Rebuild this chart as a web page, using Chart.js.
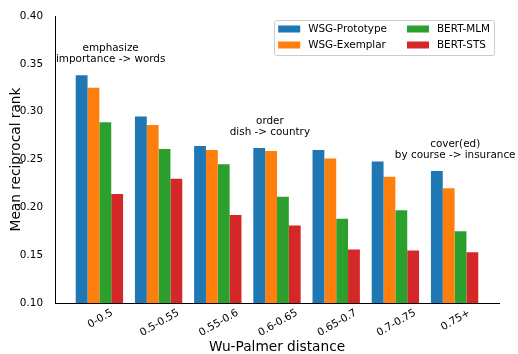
<!DOCTYPE html>
<html lang="en">
<head>
<meta charset="UTF-8">
<title>Mean reciprocal rank by Wu-Palmer distance</title>
<script src="https://cdn.jsdelivr.net/npm/chart.js"></script>
<style>
  html, body { margin: 0; padding: 0; background: #fff; }
  #wrap { width: 518px; height: 354px; }
</style>
</head>
<body>
<div id="wrap"><canvas id="mrrChart"></canvas></div>
<script>
  // Wu-Palmer distance buckets
  const categories = ["0-0.5", "0.5-0.55", "0.55-0.6", "0.6-0.65", "0.65-0.7", "0.7-0.75", "0.75+"];

  // mean reciprocal rank per model
  const wsgPrototype = [0.338, 0.295, 0.264, 0.262, 0.260, 0.248, 0.238];
  const wsgExemplar  = [0.325, 0.286, 0.260, 0.259, 0.251, 0.232, 0.220];
  const bertMLM      = [0.289, 0.261, 0.245, 0.211, 0.188, 0.197, 0.175];
  const bertSTS      = [0.214, 0.230, 0.192, 0.181, 0.156, 0.155, 0.153];

  const yTicks = [0.10, 0.15, 0.20, 0.25, 0.30, 0.35, 0.40];

  // example pairs written over the bars (x = bucket index, y = MRR)
  const notes = [
    { lines: ["emphasize", "importance -> words"], x: 0.19, y: 0.360 },
    { lines: ["order", "dish -> country"], x: 2.88, y: 0.2845 },
    { lines: ["cover(ed)", "by course -> insurance"], x: 6.01, y: 0.2604 }
  ];

  const FONT = '"DejaVu Sans", sans-serif';
  Chart.defaults.font.family = FONT;
  Chart.defaults.color = '#000';

  const toPoints = vals => vals.map((v, i) => ({ x: i, y: v }));

  // rotated category labels, centred under each group like matplotlib does
  const xLabels = {
    id: 'xLabels',
    afterDraw(chart) {
      const ctx = chart.ctx;
      const xs = chart.scales.x;
      const base = chart.chartArea.bottom + 4;
      const ang = 30 * Math.PI / 180;
      ctx.save();
      ctx.font = '10.4px ' + FONT;
      ctx.fillStyle = '#000';
      ctx.textAlign = 'center';
      ctx.textBaseline = 'middle';
      categories.forEach((label, i) => {
        const w = ctx.measureText(label).width;
        const h = 12;
        const bh = w * Math.sin(ang) + h * Math.cos(ang);
        ctx.save();
        ctx.translate(xs.getPixelForValue(i) + 1, base + bh / 2);
        ctx.rotate(-ang);
        ctx.fillText(label, 0, 0);
        ctx.restore();
      });
      ctx.restore();
    }
  };

  const annotations = {
    id: 'annotations',
    afterDraw(chart) {
      const ctx = chart.ctx;
      const { x: xs, y: ys } = chart.scales;
      ctx.save();
      ctx.font = '10.4px ' + FONT;
      ctx.fillStyle = '#000';
      ctx.textAlign = 'center';
      ctx.textBaseline = 'middle';
      notes.forEach(n => {
        const cx = xs.getPixelForValue(n.x);
        const cy = ys.getPixelForValue(n.y);
        const lh = 11;
        n.lines.forEach((t, k) => {
          ctx.fillText(t, cx, cy + (k - (n.lines.length - 1) / 2) * lh);
        });
      });
      ctx.restore();
    }
  };

  // two-column legend in the upper right corner
  const legendBox = {
    id: 'legendBox',
    afterDraw(chart) {
      const ctx = chart.ctx, area = chart.chartArea;
      const ds = chart.data.datasets;
      const cols = [[ds[0], ds[1]], [ds[2], ds[3]]];
      const pad = 4, handleW = 22, handleH = 7, gap = 8, colGap = 20, rowH = 16;
      ctx.save();
      ctx.font = '10.4px ' + FONT;
      const colW = cols.map(c => handleW + gap + Math.max(...c.map(d => ctx.measureText(d.label).width)));
      const w = pad * 2 + colW[0] + colGap + colW[1];
      const h = 35;
      const right = area.right - 5, top = area.top + 4;
      const left = right - w;
      ctx.fillStyle = 'rgba(255,255,255,0.8)';
      ctx.strokeStyle = '#cccccc';
      ctx.lineWidth = 1;
      ctx.beginPath();
      ctx.roundRect(Math.round(left) + 0.5, top + 0.5, Math.round(w), h, 2);
      ctx.fill();
      ctx.stroke();
      let x = left + pad;
      cols.forEach((c, ci) => {
        c.forEach((d, ri) => {
          const cy = top + 9 + ri * rowH;
          ctx.fillStyle = d.backgroundColor;
          ctx.fillRect(x, cy - handleH / 2, handleW, handleH);
          ctx.fillStyle = '#000';
          ctx.textBaseline = 'middle';
          ctx.fillText(d.label, x + handleW + gap, cy);
        });
        x += colW[ci] + colGap;
      });
      ctx.restore();
    }
  };

  const ctx = document.getElementById('mrrChart').getContext('2d');
  new Chart(ctx, {
    type: 'bar',
    data: {
      datasets: [
        { label: 'WSG-Prototype', data: toPoints(wsgPrototype), backgroundColor: '#1f77b4' },
        { label: 'WSG-Exemplar', data: toPoints(wsgExemplar), backgroundColor: '#ff7f0e' },
        { label: 'BERT-MLM', data: toPoints(bertMLM), backgroundColor: '#2ca02c' },
        { label: 'BERT-STS', data: toPoints(bertSTS), backgroundColor: '#d62728' }
      ]
    },
    options: {
      responsive: true,
      maintainAspectRatio: false,
      animation: false,
      layout: { padding: { left: 0, top: 16, right: 19, bottom: 0 } },
      datasets: { bar: { categoryPercentage: 0.8, barPercentage: 1.0, borderWidth: 0 } },
      plugins: { legend: { display: false }, tooltip: { enabled: false } },
      scales: {
        x: {
          type: 'linear',
          offset: false,
          min: -0.75,
          max: 6.75,
          grid: { display: false, offset: false },
          border: { display: true, color: '#000', width: 1 },
          ticks: { display: false },
          afterBuildTicks: s => { s.ticks = categories.map((_, i) => ({ value: i })); },
          afterFit: s => { s.height = 51; },
          title: {
            display: true,
            text: 'Wu-Palmer distance',
            font: { size: 13.7, lineHeight: 1 },
            padding: 0
          }
        },
        y: {
          min: 0.1,
          max: 0.4,
          grid: { display: false },
          border: { display: true, color: '#000', width: 1 },
          afterBuildTicks: s => { s.ticks = yTicks.map(v => ({ value: v })); },
          afterFit: s => { s.width = 55; },
          ticks: {
            padding: 4,
            font: { size: 10.4 },
            callback: v => v.toFixed(2)
          },
          title: {
            display: true,
            text: 'Mean reciprocal rank',
            font: { size: 13.7, lineHeight: 1 },
            padding: { top: 10, bottom: 0 }
          }
        }
      }
    },
    plugins: [xLabels, annotations, legendBox]
  });
</script>
</body>
</html>
